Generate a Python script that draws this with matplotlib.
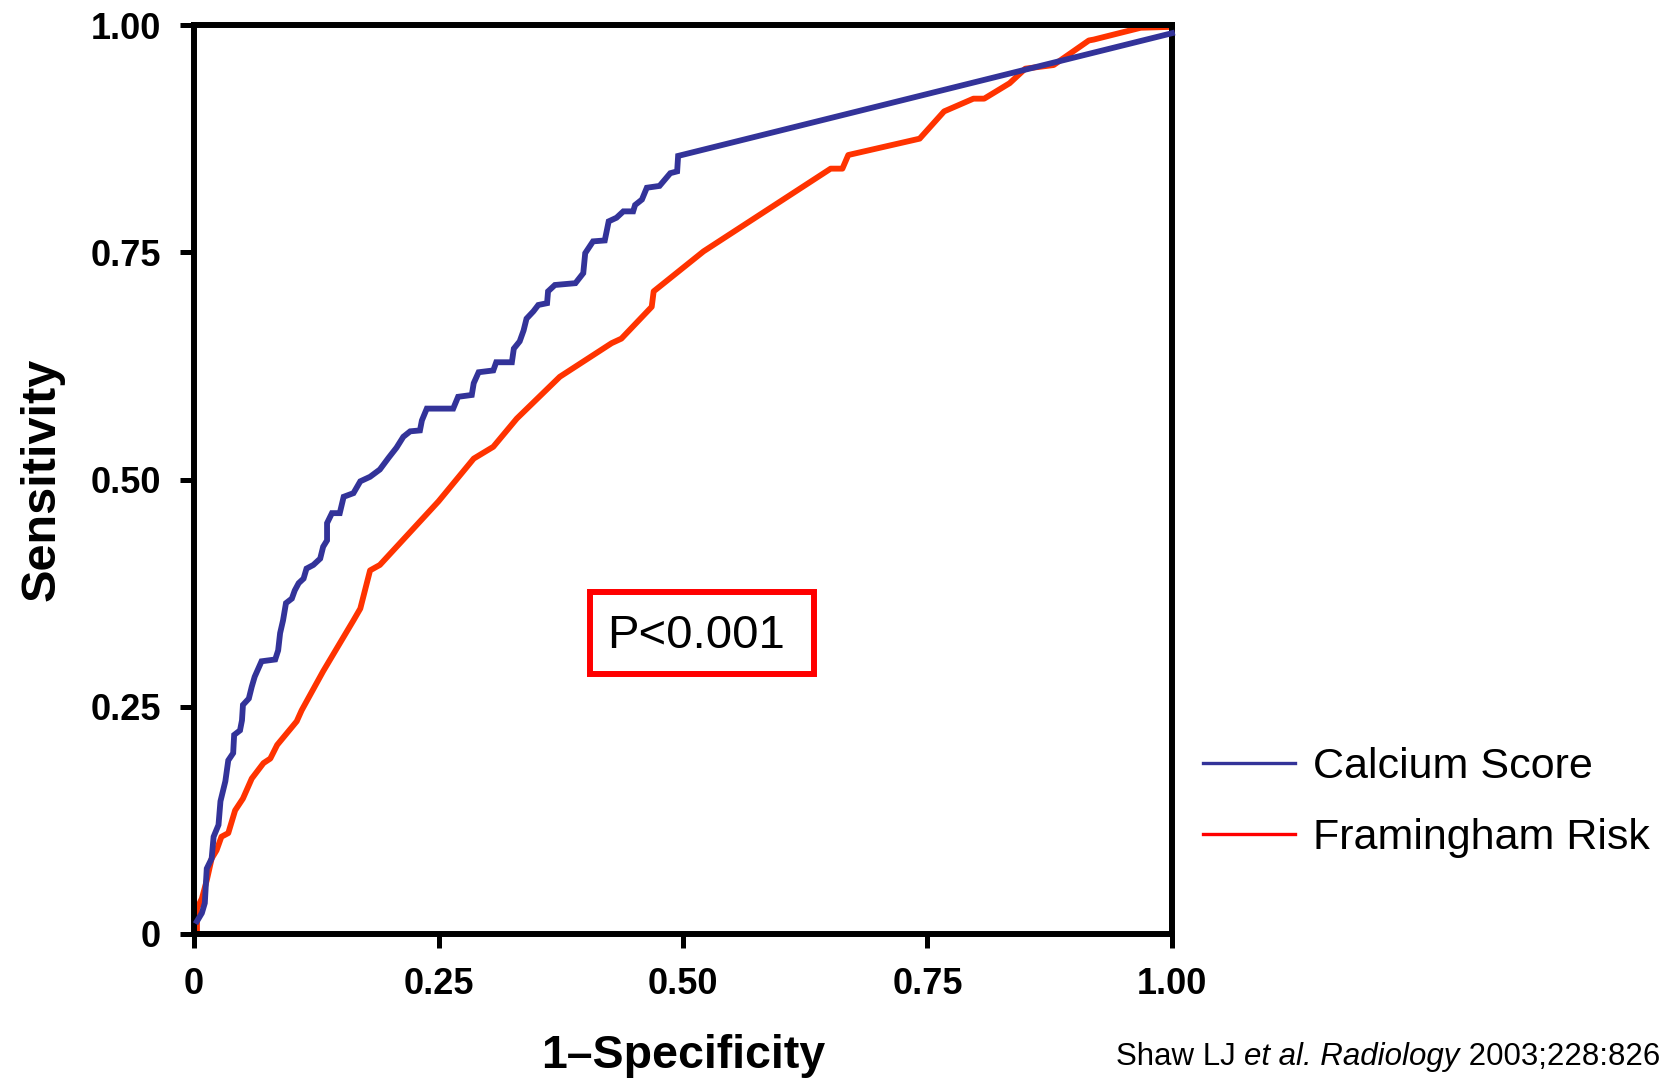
import matplotlib
matplotlib.use("Agg")
import matplotlib.pyplot as plt
from matplotlib.lines import Line2D
from matplotlib.patches import Rectangle

plt.rcParams['font.family'] = ['Liberation Sans', 'DejaVu Sans']

# ---- data ----
calcium_x = [0.003, 0.008, 0.011, 0.013, 0.018, 0.020, 0.025, 0.027, 0.032, 0.035,
             0.040, 0.041, 0.047, 0.049, 0.050, 0.056, 0.059, 0.062, 0.069, 0.083,
             0.086, 0.088, 0.091, 0.094, 0.100, 0.103, 0.107, 0.112, 0.115, 0.122,
             0.129, 0.132, 0.136, 0.136, 0.141, 0.149, 0.153, 0.163, 0.170, 0.180,
             0.190, 0.199, 0.207, 0.214, 0.221, 0.231, 0.233, 0.238, 0.265, 0.270,
             0.284, 0.286, 0.291, 0.306, 0.309, 0.325, 0.327, 0.333, 0.337, 0.340,
             0.347, 0.352, 0.361, 0.362, 0.369, 0.390, 0.398, 0.400, 0.408, 0.420,
             0.424, 0.432, 0.439, 0.449, 0.451, 0.458, 0.463, 0.476, 0.487, 0.494,
             0.495, 1.000]
calcium_y = [0.014, 0.023, 0.034, 0.072, 0.083, 0.107, 0.120, 0.146, 0.168, 0.191,
             0.199, 0.219, 0.224, 0.235, 0.252, 0.259, 0.272, 0.283, 0.300, 0.302,
             0.312, 0.331, 0.345, 0.364, 0.369, 0.378, 0.386, 0.391, 0.402, 0.406,
             0.413, 0.426, 0.433, 0.452, 0.463, 0.463, 0.481, 0.485, 0.498, 0.503,
             0.511, 0.524, 0.535, 0.547, 0.553, 0.554, 0.565, 0.578, 0.578, 0.591,
             0.593, 0.606, 0.618, 0.620, 0.629, 0.629, 0.644, 0.652, 0.664, 0.677,
             0.685, 0.692, 0.694, 0.707, 0.714, 0.716, 0.727, 0.749, 0.762, 0.763,
             0.784, 0.788, 0.795, 0.795, 0.802, 0.808, 0.821, 0.823, 0.837, 0.839,
             0.856, 0.991]

framingham_x = [0.003, 0.003, 0.008, 0.013, 0.018, 0.023, 0.028, 0.035, 0.042, 0.050,
                0.059, 0.071, 0.078, 0.085, 0.105, 0.110, 0.132, 0.163, 0.170, 0.180,
                0.190, 0.250, 0.286, 0.306, 0.330, 0.374, 0.427, 0.437, 0.468, 0.470,
                0.521, 0.651, 0.663, 0.669, 0.742, 0.767, 0.797, 0.808, 0.834, 0.850,
                0.879, 0.915, 0.920, 0.968, 1.000]
framingham_y = [0.004, 0.028, 0.039, 0.059, 0.083, 0.092, 0.107, 0.111, 0.136, 0.149,
                0.171, 0.188, 0.193, 0.208, 0.234, 0.246, 0.289, 0.345, 0.358, 0.400,
                0.406, 0.476, 0.523, 0.536, 0.567, 0.613, 0.650, 0.655, 0.690, 0.707,
                0.751, 0.842, 0.842, 0.857, 0.875, 0.905, 0.919, 0.919, 0.936, 0.952,
                0.956, 0.983, 0.984, 0.997, 0.998]

tick_values = [0, 0.25, 0.5, 0.75, 1.0]
tick_labels = ['0', '0.25', '0.50', '0.75', '1.00']
series_names = ['Calcium Score', 'Framingham Risk']
citation_parts = [('Shaw LJ ', 'normal'), ('et al. Radiology', 'italic'),
                  (' 2003;228:826', 'normal')]

# ---- figure ----
fig = plt.figure(figsize=(16.6, 10.79), dpi=100)
ax = fig.add_axes([0.1169, 0.1344, 0.706 - 0.1169, 0.9768 - 0.1344])

ax.plot(calcium_x, calcium_y, color='#333399', lw=4.2, solid_joinstyle='miter', clip_on=False, zorder=3)
ax.plot(framingham_x, framingham_y, color='#FF3300', lw=4.2, clip_on=False, zorder=2)

ax.set_xlim(0, 1)
ax.set_ylim(0, 1)
ax.set_xticks(tick_values)
ax.set_xticklabels(tick_labels)
ax.set_yticks(tick_values)
ax.set_yticklabels(tick_labels)
ax.tick_params(axis='both', direction='out', length=10, width=3.6, pad=14,
               labelsize=26, color='black')
for lab in ax.get_xticklabels() + ax.get_yticklabels():
    lab.set_fontweight('bold')
for sp in ax.spines.values():
    sp.set_linewidth(4.3)
    sp.set_color('black')

ax.set_xlabel('1\u2013Specificity', fontsize=33.5, fontweight='bold', va='baseline')
ax.xaxis.set_label_coords(0.5, -0.1474)
ax.set_ylabel('Sensitivity', fontsize=35, fontweight='bold', va='center')
ax.yaxis.set_label_coords(-0.1555, 0.5)

# P-value box
ax.add_patch(Rectangle((0.405, 0.286), 0.229, 0.090, fill=False, edgecolor='#FF0000',
                       lw=4.3, zorder=4))
ax.text(0.513, 0.3146, 'P<0.001', fontsize=34, ha='center', va='baseline', zorder=5)

# legend
handles = [Line2D([], [], color='#333399', lw=2.4),
           Line2D([], [], color='#FF0000', lw=2.4)]
fig.legend(handles, series_names, loc='center left',
           bbox_to_anchor=(1203 / 1660, 1 - 802.5 / 1079), bbox_transform=fig.transFigure,
           frameon=False, fontsize=31, handlelength=2.13, handletextpad=0.42,
           labelspacing=0.72, borderpad=0, borderaxespad=0)

# citation (mixed upright / italic pieces placed one after another)
renderer = fig.canvas.get_renderer()
x_px = 1116.0
y_fig = 1 - 1065 / 1079
for txt, style in citation_parts:
    t = fig.text(x_px / 1660, y_fig, txt, fontsize=22.5, style=style,
                 ha='left', va='baseline')
    x_px += t.get_window_extent(renderer).width

fig.savefig('out.png', dpi=100)
